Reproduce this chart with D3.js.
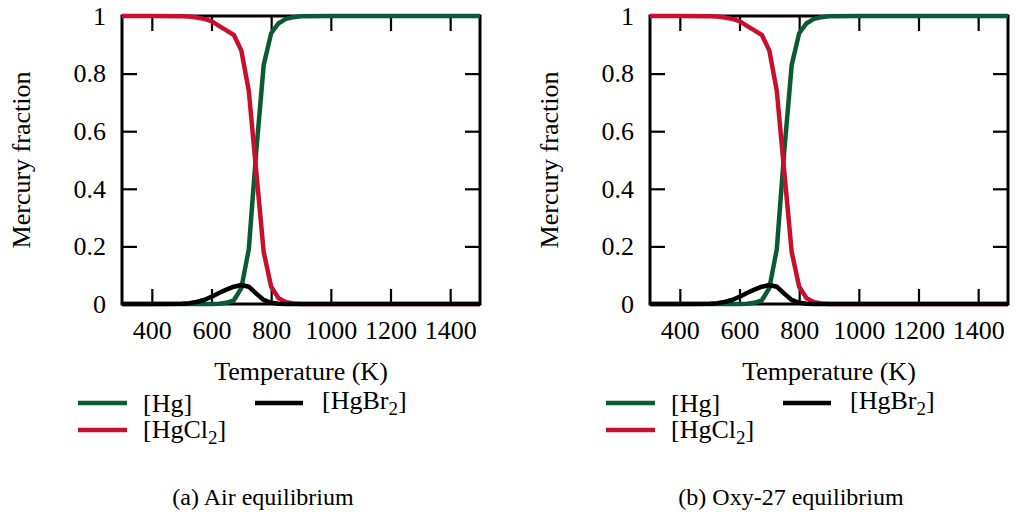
<!DOCTYPE html>
<html>
<head>
<meta charset="utf-8">
<script src="https://cdn.jsdelivr.net/npm/d3@7"></script>
<style>
  html, body { margin: 0; padding: 0; background: #fff; }
  svg { display: block; }
  text { font-family: "Liberation Serif", "Times New Roman", serif; fill: #000; }
</style>
</head>
<body>
<svg id="chart" width="1019" height="518"></svg>
<script>
// ---- data ----
const temps = [300, 400, 500, 525, 550, 575, 600, 625, 650, 675, 700, 725, 750, 775, 800, 825, 850, 875, 900, 1000, 1100, 1200, 1300, 1400, 1500];

const airHg     = [0, 0, 0, 0, 0, 0, 0, 0.001, 0.004, 0.013, 0.055, 0.19, 0.53, 0.83, 0.94, 0.975, 0.99, 0.996, 0.999, 1, 1, 1, 1, 1, 1];
const airHgCl2  = [1, 1, 0.999, 0.998, 0.995, 0.99, 0.982, 0.966, 0.95, 0.934, 0.88, 0.74, 0.46, 0.18, 0.06, 0.02, 0.006, 0.002, 0, 0, 0, 0, 0, 0, 0];
const airHgBr2  = [0, 0, 0.001, 0.003, 0.007, 0.014, 0.025, 0.038, 0.05, 0.06, 0.066, 0.06, 0.036, 0.014, 0.004, 0.001, 0, 0, 0, 0, 0, 0, 0, 0, 0];

const oxyHg     = [0, 0, 0, 0, 0, 0, 0, 0.001, 0.004, 0.013, 0.055, 0.19, 0.53, 0.83, 0.94, 0.975, 0.99, 0.996, 0.999, 1, 1, 1, 1, 1, 1];
const oxyHgCl2  = [1, 1, 0.999, 0.998, 0.995, 0.99, 0.982, 0.966, 0.95, 0.934, 0.88, 0.74, 0.46, 0.18, 0.06, 0.02, 0.006, 0.002, 0, 0, 0, 0, 0, 0, 0];
const oxyHgBr2  = [0, 0, 0.001, 0.003, 0.007, 0.014, 0.025, 0.038, 0.05, 0.06, 0.066, 0.06, 0.036, 0.014, 0.004, 0.001, 0, 0, 0, 0, 0, 0, 0, 0, 0];

const xTicks = [400, 600, 800, 1000, 1200, 1400];
const yTicks = [0, 0.2, 0.4, 0.6, 0.8, 1];
const yTickLabels = ["0", "0.2", "0.4", "0.6", "0.8", "1"];
const seriesNames = ["Hg", "HgCl2", "HgBr2"];
const seriesColors = ["#0b5a36", "#c8102e", "#000000"];
const captions = ["(a) Air equilibrium", "(b) Oxy-27 equilibrium"];

// ---- drawing ----
const svg = d3.select("#chart");
const FS = 26;
const W = 358, H = 288;

function panel(offsetX, series, caption) {
  const g = svg.append("g").attr("transform", `translate(${offsetX},0)`);
  const left = 122, top = 16;
  const x = d3.scaleLinear().domain([300, 1500]).range([left, left + W]);
  const y = d3.scaleLinear().domain([0, 1]).range([top + H, top]);

  // frame
  g.append("rect").attr("x", left).attr("y", top).attr("width", W).attr("height", H)
    .attr("fill", "none").attr("stroke", "#000").attr("stroke-width", 3);

  const styleAxis = (sel, showLabels) => {
    sel.select(".domain").remove();
    sel.selectAll(".tick line").attr("stroke", "#000").attr("stroke-width", 2.2);
    sel.selectAll(".tick text")
      .attr("font-family", "'Liberation Serif', 'Times New Roman', serif")
      .attr("font-size", FS).attr("fill", "#000");
    if (!showLabels) sel.selectAll(".tick text").remove();
  };

  g.append("g").attr("transform", `translate(0,${top + H})`)
    .call(d3.axisBottom(x).tickValues(xTicks).tickSize(-15).tickPadding(17).tickFormat(d3.format("d")))
    .call(s => styleAxis(s, true));
  g.append("g").attr("transform", `translate(0,${top})`)
    .call(d3.axisTop(x).tickValues(xTicks).tickSize(-15))
    .call(s => styleAxis(s, false));
  g.append("g").attr("transform", `translate(${left},0)`)
    .call(d3.axisLeft(y).tickValues(yTicks).tickSize(-15).tickPadding(16).tickFormat((d, i) => yTickLabels[i]))
    .call(s => styleAxis(s, true));
  g.append("g").attr("transform", `translate(${left + W},0)`)
    .call(d3.axisRight(y).tickValues(yTicks).tickSize(-15))
    .call(s => styleAxis(s, false));

  // curves
  const line = d3.line().x(d => x(d[0])).y(d => y(d[1]));
  series.forEach((vals, i) => {
    g.append("path")
      .datum(temps.map((t, j) => [t, vals[j]]))
      .attr("d", line)
      .attr("fill", "none")
      .attr("stroke", seriesColors[i])
      .attr("stroke-width", 4.5)
      .attr("stroke-linejoin", "round");
  });

  // axis titles
  g.append("text").attr("x", left + W / 2).attr("y", 380).attr("text-anchor", "middle")
    .attr("font-size", FS).text("Temperature (K)");
  g.append("text").attr("transform", `translate(30,${top + H / 2}) rotate(-90)`)
    .attr("text-anchor", "middle").attr("font-size", FS).text("Mercury fraction");

  // legend
  const leg = [
    { x1: 78, x2: 127, y: 403, tx: 143, ty: 412, base: "[Hg", sub: null },
    { x1: 78, x2: 127, y: 430, tx: 143, ty: 438, base: "[HgCl", sub: "2" },
    { x1: 255, x2: 303, y: 403, tx: 322, ty: 409, base: "[HgBr", sub: "2" }
  ];
  leg.forEach((L, i) => {
    g.append("line").attr("x1", L.x1).attr("x2", L.x2).attr("y1", L.y).attr("y2", L.y)
      .attr("stroke", seriesColors[i]).attr("stroke-width", 4.5);
    const t = g.append("text").attr("x", L.tx).attr("y", L.ty).attr("font-size", FS);
    t.append("tspan").text(L.base);
    if (L.sub) {
      t.append("tspan").attr("font-size", 19).attr("dy", 6).text(L.sub);
      t.append("tspan").attr("dy", -6).text("]");
    } else {
      t.append("tspan").text("]");
    }
  });

  // caption
  g.append("text").attr("x", 263).attr("y", 505).attr("text-anchor", "middle")
    .attr("font-size", 24).text(caption);
}

panel(0, [airHg, airHgCl2, airHgBr2], captions[0]);
panel(528, [oxyHg, oxyHgCl2, oxyHgBr2], captions[1]);
</script>
</body>
</html>
